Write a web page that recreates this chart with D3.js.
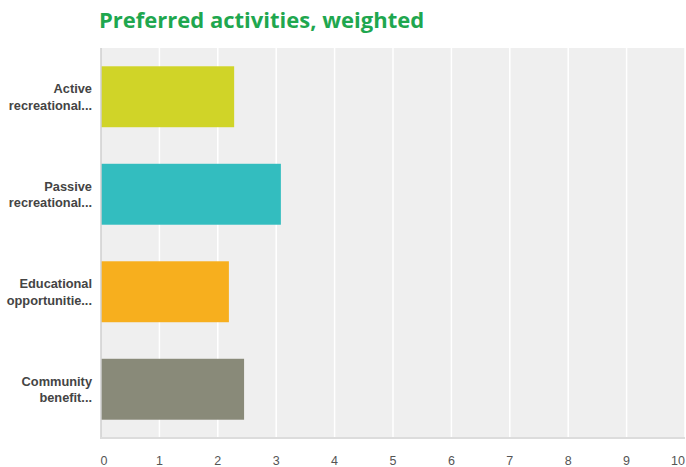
<!DOCTYPE html>
<html lang="en">
<head>
    <meta charset="UTF-8">
    <title>Preferred activities, weighted</title>
    <style>
        body { margin: 0; background: #fff; }
        .title { font-family: "Open Sans", Arial, sans-serif; font-weight: 700; fill: #1fa74f; }
        .cat-label { font-family: Arial, "Liberation Sans", sans-serif; font-weight: 700; font-size: 12.8px; fill: #444; }
        .tick-label { font-family: Arial, "Liberation Sans", sans-serif; font-size: 12.5px; fill: #555; }
    </style>
</head>
<body>
    <div id="chart"></div>
    <script src="https://d3js.org/d3.v7.min.js"></script>
    <script>
        const categories = [
            ["Active", "recreational..."],
            ["Passive", "recreational..."],
            ["Educational", "opportunitie..."],
            ["Community", "benefit..."]
        ];
        const values = [2.28, 3.08, 2.19, 2.45];
        const colors = ["#d0d428", "#33bdbf", "#f7af1e", "#898a79"];
        const ticks = [0, 1, 2, 3, 4, 5, 6, 7, 8, 9, 10];

        const width = 686, height = 467;
        const margin = {top: 48, right: 1, bottom: 29, left: 101};

        const svg = d3.select("#chart").append("svg")
            .attr("width", width)
            .attr("height", height);

        const x = d3.scaleLinear()
            .domain([0, 10])
            .range([margin.left, width - margin.right]);

        const y = d3.scaleBand()
            .domain(d3.range(categories.length))
            .range([margin.top, height - margin.bottom])
            .paddingInner(0.375)
            .paddingOuter(0.1875);

        // plot background
        svg.append("rect")
            .attr("x", margin.left)
            .attr("y", margin.top)
            .attr("width", width - margin.right - margin.left)
            .attr("height", height - margin.bottom - margin.top)
            .attr("fill", "#efefef");

        // vertical grid
        svg.selectAll(".grid")
            .data(ticks.slice(1))
            .enter().append("line")
            .attr("x1", d => x(d))
            .attr("x2", d => x(d))
            .attr("y1", margin.top)
            .attr("y2", height - margin.bottom)
            .attr("stroke", "#fff")
            .attr("stroke-width", 1.5);

        // bars
        svg.selectAll(".bar")
            .data(values)
            .enter().append("rect")
            .attr("x", x(0))
            .attr("y", (d, i) => y(i))
            .attr("width", d => x(d) - x(0))
            .attr("height", y.bandwidth())
            .attr("fill", (d, i) => colors[i]);

        // axis lines
        svg.append("line")
            .attr("x1", margin.left).attr("x2", margin.left)
            .attr("y1", margin.top).attr("y2", height - margin.bottom + 1)
            .attr("stroke", "#cfcfcf").attr("stroke-width", 1.5);
        svg.append("line")
            .attr("x1", margin.left).attr("x2", width - margin.right)
            .attr("y1", height - margin.bottom).attr("y2", height - margin.bottom)
            .attr("stroke", "#dcdcdc").attr("stroke-width", 2);

        // x tick labels
        svg.selectAll(".tick-label")
            .data(ticks)
            .enter().append("text")
            .attr("class", "tick-label")
            .attr("x", d => x(d))
            .attr("y", 465)
            .attr("text-anchor", d => d === 10 ? "end" : "middle")
            .attr("dx", d => d === 0 ? 3 : 0)
            .text(d => d);

        // category labels
        const labels = svg.selectAll(".cat-label")
            .data(categories)
            .enter().append("text")
            .attr("class", "cat-label")
            .attr("text-anchor", "end")
            .attr("x", 92)
            .attr("y", (d, i) => y(i) + y.bandwidth() / 2 - 3.5);
        labels.selectAll("tspan")
            .data(d => d)
            .enter().append("tspan")
            .attr("x", 92)
            .attr("dy", (d, j) => j === 0 ? 0 : 16.5)
            .text(d => d);

        svg.append("text")
            .attr("class", "title")
            .attr("x", 99)
            .attr("y", 28)
            .attr("font-size", 22)
            .text("Preferred activities, weighted");
    </script>
</body>
</html>
